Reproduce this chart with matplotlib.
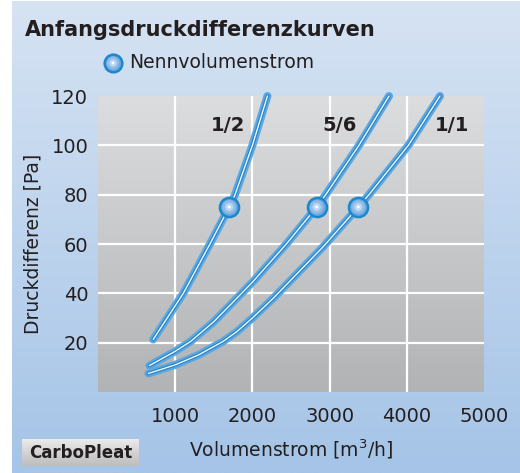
"""Anfangsdruckdifferenzkurven (CarboPleat) - initial pressure drop curves.

Writes out.png.
"""

import matplotlib

matplotlib.use("Agg")
import matplotlib.pyplot as plt
import numpy as np
from matplotlib.colors import LinearSegmentedColormap

X_TICKS = [1000, 2000, 3000, 4000, 5000]
Y_TICKS = [20, 40, 60, 80, 100, 120]

# curve "1/2"
HALF_X = [715, 1105, 1450, 1700, 1775, 2000, 2195]
HALF_Y = [21.3, 40, 60, 75, 80, 100, 120]
# curve "5/6"
FIVE6_X = [665, 1000, 1200, 1500, 1860, 2000, 2440, 2833, 2950, 3380, 3770]
FIVE6_Y = [10.7, 16.5, 20.5, 28.5, 40, 44.5, 60, 75, 80, 100, 120]
# curve "1/1"
ONE_X = [652, 1000, 1300, 1620, 1800, 2000, 2270, 2920, 3372, 3510, 4020, 4430]
ONE_Y = [7.5, 11, 15, 20.5, 24.5, 30, 38, 59, 75, 80, 100, 120]

# Nennvolumenstrom points
NOMINAL_X = [1700, 2833, 3372]
NOMINAL_Y = [75, 75, 75]

CURVE_LABELS = ["1/2", "5/6", "1/1"]
LABEL_X = [1680, 3126, 4582]
LABEL_Y = [108, 108, 108]

W, H = 520, 473
TXT = "#231f20"

blue_bg = LinearSegmentedColormap.from_list("bg", ["#d6e3f3", "#a5c4e7"])
grey_bg = LinearSegmentedColormap.from_list("plot", ["#dcddde", "#b2b3b5"])
box_bg = LinearSegmentedColormap.from_list("box", ["#ebebeb", "#bcbcbc"])
grad = np.linspace(0, 1, 256).reshape(-1, 1)


def nominal_marker(axis, x, y, scale=1.0):
    # layered circles for the little "glass bead" look
    axis.scatter(x, y, s=190 * scale, facecolor="#6ea8de", edgecolor="#1c87cd",
                 linewidth=1.8, zorder=6, clip_on=False)
    axis.scatter(x, y, s=95 * scale, facecolor="#8fbce8", edgecolor="none",
                 zorder=7, clip_on=False)
    axis.scatter(x, y, s=35 * scale, facecolor="#b9d5f1", edgecolor="none",
                 zorder=8, clip_on=False)
    axis.scatter(x, y, s=5 * scale, facecolor="white", edgecolor="none",
                 zorder=9, clip_on=False)


fig = plt.figure(figsize=(W / 100, H / 100), dpi=100, facecolor="white")

# pixel-coordinate background layer
bg = fig.add_axes([0, 0, 1, 1], zorder=0)
bg.imshow(grad, extent=[12, W, H, 2], cmap=blue_bg, aspect="auto")
bg.imshow(grad, extent=[22, 139, 466, 439], cmap=box_bg, aspect="auto", zorder=2)
bg.set_xlim(0, W)
bg.set_ylim(H, 0)
bg.axis("off")

bg.text(25, 30, "Anfangsdruckdifferenzkurven", fontsize=15, fontweight="bold",
        color=TXT, va="center", ha="left")
nominal_marker(bg, [113], [63], scale=0.85)
bg.text(129, 63, "Nennvolumenstrom", fontsize=13.5, color=TXT, va="center", ha="left")
bg.text(80.5, 453, "CarboPleat", fontsize=12, fontweight="bold", color=TXT,
        ha="center", va="center", zorder=3)

# main chart
ax = fig.add_axes([98 / W, 81 / H, 386 / W, 296 / H], zorder=1)
ax.imshow(grad, extent=[0, 5000, 0, 120], cmap=grey_bg, aspect="auto", zorder=0)
ax.set_xlim(0, 5000)
ax.set_ylim(0, 120)
ax.patch.set_visible(False)
for s in ax.spines.values():
    s.set_visible(False)

for xv in X_TICKS[:-1]:
    ax.axvline(xv, color="white", lw=1.6, zorder=1)
for yv in Y_TICKS[:-1]:
    ax.axhline(yv, color="white", lw=1.6, zorder=1)

ax.set_xticks(X_TICKS)
ax.set_yticks(Y_TICKS)
ax.tick_params(length=0, labelsize=14, labelcolor=TXT)
ax.tick_params(axis="x", pad=11)
ax.tick_params(axis="y", pad=7)
ax.set_xlabel("Volumenstrom [m$^3$/h]", fontsize=13.5, color=TXT, labelpad=8)
ax.set_ylabel("Druckdifferenz [Pa]", fontsize=13.5, color=TXT, labelpad=6)

for xs, ys in [(HALF_X, HALF_Y), (FIVE6_X, FIVE6_Y), (ONE_X, ONE_Y)]:
    ax.plot(xs, ys, color="#5ea8df", lw=5.8, solid_capstyle="round",
            solid_joinstyle="round", zorder=3, clip_on=False)
    ax.plot(xs, ys, color="#2a89cf", lw=2.8, solid_capstyle="round",
            solid_joinstyle="round", zorder=4, clip_on=False)
    ax.plot(xs, ys, color="white", lw=0.9, solid_capstyle="round",
            solid_joinstyle="round", zorder=5, clip_on=False)

nominal_marker(ax, NOMINAL_X, NOMINAL_Y)

for lab, lx, ly in zip(CURVE_LABELS, LABEL_X, LABEL_Y):
    ax.text(lx, ly, lab, fontsize=14, fontweight="bold", color=TXT,
            ha="center", va="center", zorder=6)

fig.savefig("out.png", dpi=100, facecolor="white")
